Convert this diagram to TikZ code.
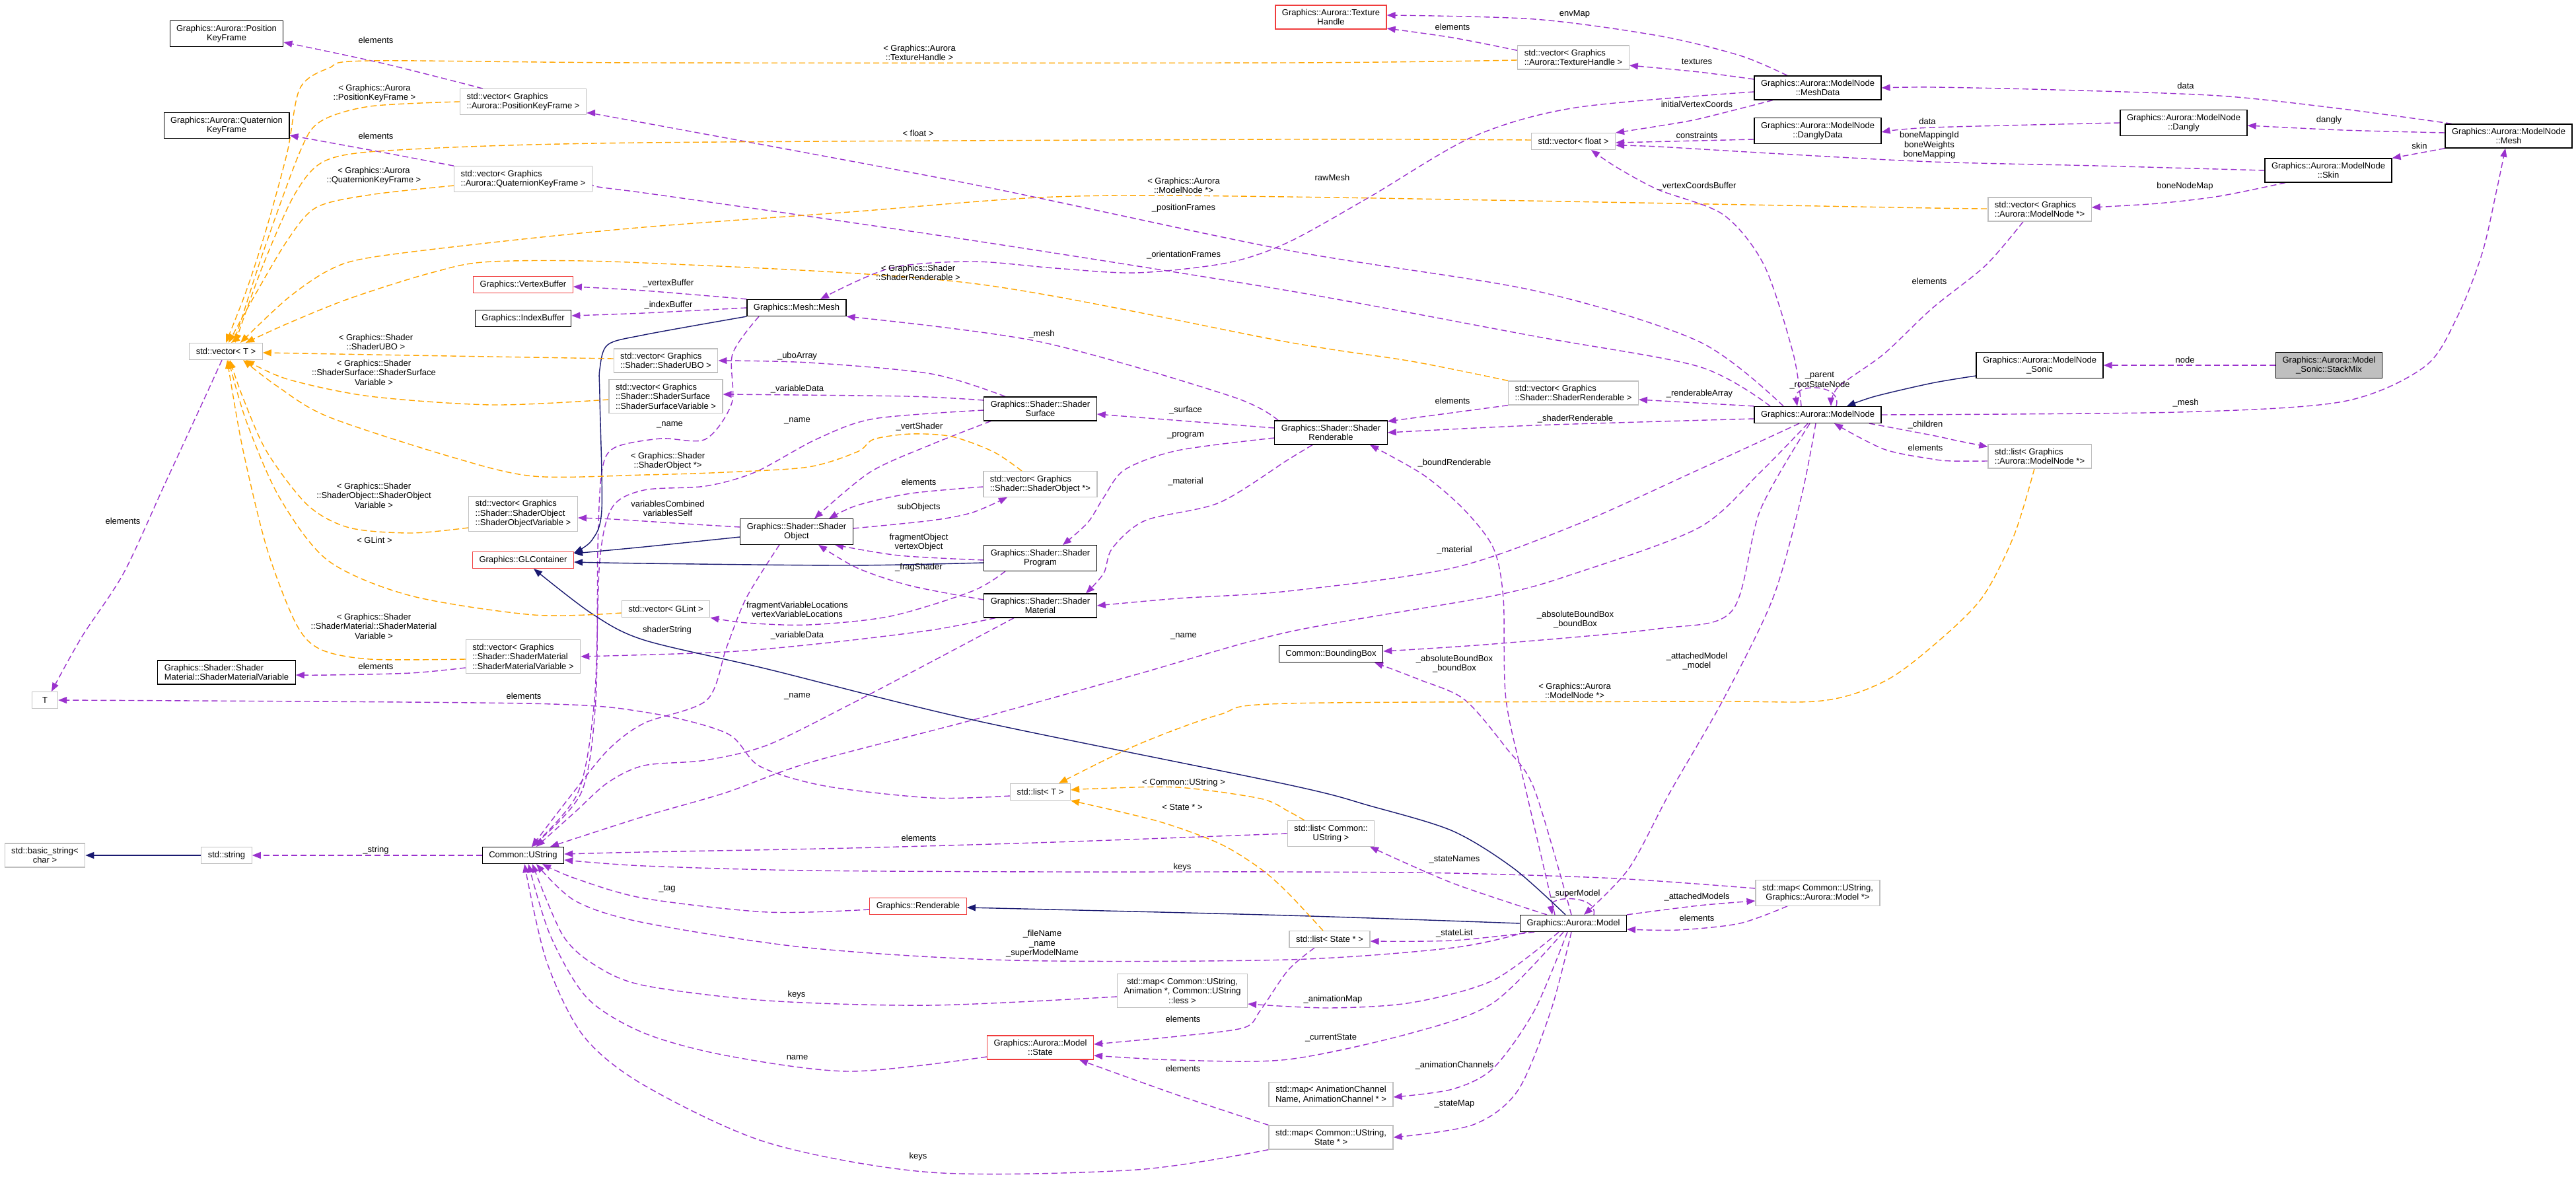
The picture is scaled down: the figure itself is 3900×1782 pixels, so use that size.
\documentclass[tikz,border=0pt]{standalone}
\usepackage{fontspec}
\setmainfont{Liberation Sans}
\usetikzlibrary{arrows.meta, backgrounds}
\definecolor{usecol}{HTML}{9A32CD}
\definecolor{tplcol}{HTML}{FFA500}
\definecolor{inhcol}{HTML}{191970}
\definecolor{undoccol}{HTML}{F03C3C}
\definecolor{graybox}{HTML}{BFBFBF}

\begin{document}
\begin{tikzpicture}[x=1pt, y=-1pt, font=\fontsize{13}{14.5}\selectfont,
  cls/.style={draw=black, line width=1.2pt, fill=white, inner xsep=10pt, inner ysep=6pt, minimum height=25pt, align=center},
  tpl/.style={cls, draw=graybox},
  tplL/.style={tpl, align=left},
  undoc/.style={cls, draw=undoccol},
  focus/.style={cls, fill=graybox},
  lbl/.style={inner sep=0pt, align=center},
  usage/.style={usecol, line width=1.4pt, dash pattern=on 9pt off 5pt, -{Triangle[length=13pt, width=10pt]}},
  tmpl/.style={usage, tplcol},
  inh/.style={inhcol, line width=1.4pt, -{Triangle[length=13pt, width=10pt]}}
]
  \useasboundingbox (0,0) rectangle (3900,1782);

  \node[cls] (poskf) at (343,51) {Graphics::Aurora::Position\\KeyFrame};
  \node[cls] (quatkf) at (343,190) {Graphics::Aurora::Quaternion\\KeyFrame};
  \node[tplL] (vecposkf) at (792,154) {std::vector< Graphics\\::Aurora::PositionKeyFrame >};
  \node[tplL] (vecquatkf) at (792,271) {std::vector< Graphics\\::Aurora::QuaternionKeyFrame >};
  \node[undoc] (vbuf) at (792,431) {Graphics::VertexBuffer};
  \node[cls] (ibuf) at (792,482) {Graphics::IndexBuffer};
  \node[tpl] (vect) at (342,532) {std::vector< T >};
  \node[tplL] (vecubo) at (1008,546) {std::vector< Graphics\\::Shader::ShaderUBO >};
  \node[tplL] (vecsurfvar) at (1008,600) {std::vector< Graphics\\::Shader::ShaderSurface\\::ShaderSurfaceVariable >};
  \node[cls] (mesh) at (1206,466) {Graphics::Mesh::Mesh};
  \node[undoc] (texh) at (2015,26) {Graphics::Aurora::Texture\\Handle};
  \node[tplL] (vectexh) at (2382,87) {std::vector< Graphics\\::Aurora::TextureHandle >};
  \node[cls] (meshdata) at (2752,133) {Graphics::Aurora::ModelNode\\::MeshData};
  \node[cls] (danglydata) at (2752,198) {Graphics::Aurora::ModelNode\\::DanglyData};
  \node[tpl] (vecfloat) at (2382,214) {std::vector< float >};
  \node[tplL] (vecrend) at (2382,595) {std::vector< Graphics\\::Shader::ShaderRenderable >};
  \node[cls] (dangly) at (3306,186) {Graphics::Aurora::ModelNode\\::Dangly};
  \node[cls] (mnmesh) at (3798,206) {Graphics::Aurora::ModelNode\\::Mesh};
  \node[cls] (skin) at (3525,258) {Graphics::Aurora::ModelNode\\::Skin};
  \node[tplL] (vecmn) at (3088,317) {std::vector< Graphics\\::Aurora::ModelNode *>};
  \node[cls] (sonic) at (3088,553) {Graphics::Aurora::ModelNode\\\_Sonic};
  \node[focus] (stackmix) at (3526,553) {Graphics::Aurora::Model\\\_Sonic::StackMix};
  \node[tplL] (vecsovar) at (792,778) {std::vector< Graphics\\::Shader::ShaderObject\\::ShaderObjectVariable >};
  \node[undoc] (glcont) at (792,848) {Graphics::GLContainer};
  \node[tplL] (vecsmvar) at (792,994) {std::vector< Graphics\\::Shader::ShaderMaterial\\::ShaderMaterialVariable >};
  \node[cls, align=left] (smvar) at (343,1018) {Graphics::Shader::Shader\\Material::ShaderMaterialVariable};
  \node[tpl, minimum width=39pt] (tnode) at (68,1060) {T};
  \node[cls] (surface) at (1575,619) {Graphics::Shader::Shader\\Surface};
  \node[cls] (shobject) at (1206,805) {Graphics::Shader::Shader\\Object};
  \node[tplL] (vecso) at (1575,733) {std::vector< Graphics\\::Shader::ShaderObject *>};
  \node[cls] (program) at (1575,845) {Graphics::Shader::Shader\\Program};
  \node[cls] (material) at (1575,917) {Graphics::Shader::Shader\\Material};
  \node[tpl] (vecglint) at (1008,922) {std::vector< GLint >};
  \node[cls] (renderable) at (2015,655) {Graphics::Shader::Shader\\Renderable};
  \node[cls] (bbox) at (2015,990) {Common::BoundingBox};
  \node[tpl] (listt) at (1575,1199) {std::list< T >};
  \node[cls] (modelnode) at (2752,628) {Graphics::Aurora::ModelNode};
  \node[tplL] (listmn) at (3088,691) {std::list< Graphics\\::Aurora::ModelNode *>};
  \node[tpl] (basicstr) at (68,1295) {std::basic\_string<\\char >};
  \node[tpl] (string) at (343,1295) {std::string};
  \node[cls] (ustring) at (792,1295) {Common::UString};
  \node[undoc] (grend) at (1390,1372) {Graphics::Renderable};
  \node[tpl] (mapanim) at (1790,1500) {std::map< Common::UString,\\Animation *, Common::UString\\::less >};
  \node[undoc] (state) at (1575,1586) {Graphics::Aurora::Model\\::State};
  \node[tpl] (liststr) at (2015,1262) {std::list< Common::\\UString >};
  \node[cls] (model) at (2382,1398) {Graphics::Aurora::Model};
  \node[tpl] (mapmodel) at (2752,1352) {std::map< Common::UString,\\Graphics::Aurora::Model *>};
  \node[tpl] (liststate) at (2013,1422) {std::list< State * >};
  \node[tpl] (mapanimch) at (2015,1657) {std::map< AnimationChannel\\Name, AnimationChannel * >};
  \node[tpl] (mapstate) at (2015,1722) {std::map< Common::UString,\\State * >};

  \node[lbl] (lb1) at (569,61) {elements};
  \node[lbl] (lb2) at (567,141) {< Graphics::Aurora\\::PositionKeyFrame >};
  \node[lbl] (lb3) at (569,206) {elements};
  \node[lbl] (lb4) at (566,266) {< Graphics::Aurora\\::QuaternionKeyFrame >};
  \node[lbl] (lb5) at (569,518) {< Graphics::Shader\\::ShaderUBO >};
  \node[lbl] (lb6) at (566,564) {< Graphics::Shader\\::ShaderSurface::ShaderSurface\\Variable >};
  \node[lbl] (lb7) at (1392,80) {< Graphics::Aurora\\::TextureHandle >};
  \node[lbl] (lb8) at (1390,202) {< float >};
  \node[lbl] (lb9) at (1792,281) {< Graphics::Aurora\\::ModelNode *>};
  \node[lbl] (lb10) at (1792,315) {\_positionFrames};
  \node[lbl] (lb11) at (1792,386) {\_orientationFrames};
  \node[lbl] (lb12) at (1390,413) {< Graphics::Shader\\::ShaderRenderable >};
  \node[lbl] (lb13) at (1012,429) {\_vertexBuffer};
  \node[lbl] (lb14) at (1012,462) {\_indexBuffer};
  \node[lbl] (lb15) at (1577,506) {\_mesh};
  \node[lbl] (lb16) at (1207,539) {\_uboArray};
  \node[lbl] (lb17) at (1207,589) {\_variableData};
  \node[lbl] (lb18) at (2384,21) {envMap};
  \node[lbl] (lb19) at (2199,41) {elements};
  \node[lbl] (lb20) at (2569,93) {textures};
  \node[lbl] (lb21) at (2569,158) {initialVertexCoords};
  \node[lbl] (lb22) at (2569,205) {constraints};
  \node[lbl] (lb23) at (2017,269) {rawMesh};
  \node[lbl] (lb24) at (2569,282) {\_vertexCoordsBuffer};
  \node[lbl] (lb25) at (2755,576) {\_parent\\\_rootStateNode};
  \node[lbl] (lb26) at (2921,220) {boneMappingId\\boneWeights\\boneMapping};
  \node[lbl] (lb27) at (2918,184) {data};
  \node[lbl] (lb28) at (2573,596) {\_renderableArray};
  \node[lbl] (lb29) at (2921,426) {elements};
  \node[lbl] (lb30) at (3309,130) {data};
  \node[lbl] (lb31) at (3526,182) {dangly};
  \node[lbl] (lb32) at (3663,221) {skin};
  \node[lbl] (lb33) at (3308,282) {boneNodeMap};
  \node[lbl] (lb34) at (3308,545) {node};
  \node[lbl] (lb35) at (186,789) {elements};
  \node[lbl] (lb36) at (566,750) {< Graphics::Shader\\::ShaderObject::ShaderObject\\Variable >};
  \node[lbl] (lb37) at (567,818) {< GLint >};
  \node[lbl] (lb38) at (566,948) {< Graphics::Shader\\::ShaderMaterial::ShaderMaterial\\Variable >};
  \node[lbl] (lb39) at (569,1009) {elements};
  \node[lbl] (lb40) at (793,1054) {elements};
  \node[lbl] (lb41) at (1014,643) {\_name};
  \node[lbl] (lb42) at (1207,637) {\_name};
  \node[lbl] (lb43) at (1392,646) {\_vertShader};
  \node[lbl] (lb44) at (1011,698) {< Graphics::Shader\\::ShaderObject *>};
  \node[lbl] (lb45) at (1011,770) {variablesCombined\\variablesSelf};
  \node[lbl] (lb46) at (1391,730) {elements};
  \node[lbl] (lb47) at (1391,768) {subObjects};
  \node[lbl] (lb48) at (1391,821) {fragmentObject\\vertexObject};
  \node[lbl] (lb49) at (1391,859) {\_fragShader};
  \node[lbl] (lb50) at (1207,923) {fragmentVariableLocations\\vertexVariableLocations};
  \node[lbl] (lb51) at (1010,954) {shaderString};
  \node[lbl] (lb52) at (1207,962) {\_variableData};
  \node[lbl] (lb53) at (1207,1054) {\_name};
  \node[lbl] (lb54) at (1795,621) {\_surface};
  \node[lbl] (lb55) at (1795,659) {\_program};
  \node[lbl] (lb56) at (1795,729) {\_material};
  \node[lbl] (lb57) at (1792,963) {\_name};
  \node[lbl] (lb58) at (1792,1185) {< Common::UString >};
  \node[lbl] (lb59) at (2199,607) {elements};
  \node[lbl] (lb60) at (2385,634) {\_shaderRenderable};
  \node[lbl] (lb61) at (2202,701) {\_boundRenderable};
  \node[lbl] (lb62) at (2202,833) {\_material};
  \node[lbl] (lb63) at (2385,938) {\_absoluteBoundBox\\\_boundBox};
  \node[lbl] (lb64) at (2202,1005) {\_absoluteBoundBox\\\_boundBox};
  \node[lbl] (lb65) at (2569,1001) {\_attachedModel\\\_model};
  \node[lbl] (lb66) at (2384,1046) {< Graphics::Aurora\\::ModelNode *>};
  \node[lbl] (lb67) at (2915,643) {\_children};
  \node[lbl] (lb68) at (2915,678) {elements};
  \node[lbl] (lb69) at (3309,610) {\_mesh};
  \node[lbl] (lb70) at (569,1287) {\_string};
  \node[lbl] (lb71) at (1790,1222) {< State * >};
  \node[lbl] (lb72) at (1391,1269) {elements};
  \node[lbl] (lb73) at (1790,1313) {keys};
  \node[lbl] (lb74) at (1010,1346) {\_tag};
  \node[lbl] (lb75) at (1578,1429) {\_fileName\\\_name\\\_superModelName};
  \node[lbl] (lb76) at (1206,1506) {keys};
  \node[lbl] (lb77) at (1791,1543) {elements};
  \node[lbl] (lb78) at (1207,1601) {name};
  \node[lbl] (lb79) at (1791,1618) {elements};
  \node[lbl] (lb80) at (1390,1751) {keys};
  \node[lbl] (lb81) at (2202,1301) {\_stateNames};
  \node[lbl] (lb82) at (2385,1353) {\_superModel};
  \node[lbl] (lb83) at (2569,1358) {\_attachedModels};
  \node[lbl] (lb84) at (2569,1390) {elements};
  \node[lbl] (lb85) at (2202,1413) {\_stateList};
  \node[lbl] (lb86) at (2018,1513) {\_animationMap};
  \node[lbl] (lb87) at (2015,1571) {\_currentState};
  \node[lbl] (lb88) at (2202,1613) {\_animationChannels};
  \node[lbl] (lb89) at (2202,1671) {\_stateMap};

  \begin{scope}[on background layer]
  % usage
  \draw[usage] plot[smooth] coordinates {([xshift=-61]vecposkf.north) (580,96) ([yshift=-13]poskf.east)};
  \draw[usage] plot[smooth] coordinates {(vecquatkf.north west) (565,228) ([yshift=5]quatkf.south east)};
  \draw[usage] plot[smooth] coordinates {([xshift=-52]modelnode.north) (2572,517) (2323,440) (1950,379) (1472,279) (975,186) ([yshift=-17]vecposkf.east)};
  \draw[usage] plot[smooth] coordinates {([xshift=-72]modelnode.north) (2572,555) (2323,509) (1950,440) (1472,364) (975,292) ([yshift=-14]vecquatkf.east)};
  \draw[usage] plot[smooth] coordinates {(mesh.north west) (975,440) ([yshift=-3]vbuf.east)};
  \draw[usage] plot[smooth] coordinates {(mesh.west) (975,474) ([yshift=4]ibuf.east)};
  \draw[usage] plot[smooth] coordinates {([yshift=-6]meshdata.west) (2385,163) (2230,207) (2074,298) (1950,367) (1858,398) (1721,413) (1597,406) (1473,396) (1348,406) ([xshift=36]mesh.north)};
  \draw[usage] plot[smooth] coordinates {([xshift=-80]renderable.north) (1864,600) (1572,517) (mesh.south east)};
  \draw[usage] plot[smooth] coordinates {([xshift=-53]surface.north) (1410,566) (1224,549) (vecubo.east)};
  \draw[usage] plot[smooth] coordinates {([yshift=13]surface.west) (1373,600) ([yshift=3]vecsurfvar.east)};
  \draw[usage] plot[smooth] coordinates {([xshift=-57]mesh.south) (1109,536) (1108,610) (1068,665) (1000,664) (930,678) (911,715) (905,830) (902,1059) (880,1200) ([xshift=13]ustring.north)};
  \draw[usage] plot[smooth] coordinates {([yshift=-2]surface.west) (1323,634) (1236,665) (1143,715) (1068,736) (975,742) (927,768) (908,849) (900,1060) (875,1200) ([xshift=13]ustring.north)};
  \draw[usage] plot[smooth] coordinates {([xshift=-75]surface.south) (1410,673) (1317,715) ([xshift=27]shobject.north)};
  \draw[usage] plot[smooth] coordinates {([yshift=-4]vecso.west) (1379,747) (1298,765) ([xshift=49]shobject.north)};
  \draw[usage] plot[smooth] coordinates {([yshift=5]shobject.east) (1410,788) (1472,776) ([xshift=-50]vecso.south)};
  \draw[usage] plot[smooth] coordinates {([yshift=-3]program.west) (1361,841) ([xshift=58]shobject.south)};
  \draw[usage] plot[smooth] coordinates {([yshift=9]material.west) (1379,887) (1298,860) ([xshift=33]shobject.south)};
  \draw[usage] plot[smooth] coordinates {([xshift=-53]program.south) (1472,895) (1348,933) (1224,946) (1130,943) (vecglint.south east)};
  \draw[usage] plot[smooth] coordinates {([yshift=7]shobject.west) (1037,793) (927,786) ([yshift=-6]vecsovar.east)};
  \draw[usage] plot[smooth] coordinates {([xshift=-68]material.south) (1410,954) (1255,973) (1099,987) (vecsmvar.east)};
  \draw[usage] plot[smooth] coordinates {([yshift=-17]vecsmvar.west) (622,1019) (497,1022) ([yshift=-4]smvar.east)};
  \draw[usage] plot[smooth] coordinates {([xshift=-26]shobject.south) (1130,905) (1100,980) (1070,1060) (975,1095) (920,1136) (860,1210) ([xshift=13]ustring.north)};
  \draw[usage] ([yshift=7]renderable.west) -- ([yshift=-8]surface.east);
  \draw[usage] plot[smooth] coordinates {([yshift=-8]renderable.west) (1783,682) (1703,711) (1671,753) (1647,791) ([xshift=34]program.north)};
  \draw[usage] plot[smooth] coordinates {([xshift=-28]renderable.south) (1950,696) (1846,761) (1734,788) (1684,830) (1671,868) ([xshift=69]material.north)};
  \draw[usage] plot[smooth] coordinates {([xshift=-28]modelnode.south) (2572,711) (2385,795) (2199,860) (1950,895) (1783,906) (material.east)};
  \draw[usage] (vecrend.south west) -- ([yshift=17]renderable.east);
  \draw[usage] (modelnode.north west) -- ([yshift=-10]vecrend.east);
  \draw[usage] plot[smooth] coordinates {([yshift=-6]modelnode.west) (2323,644) (renderable.east)};
  \draw[usage] plot[smooth] coordinates {([xshift=-28]model.north) (2311,1200) (2280,1059) (2276,906) (2261,830) (2217,772) (2155,719) ([xshift=59]renderable.south)};
  \draw[usage] plot[smooth] coordinates {([xshift=-12]modelnode.south) (2665,772) (2622,925) (2510,952) (2261,975) ([yshift=4]bbox.east)};
  \draw[usage] plot[smooth] coordinates {([xshift=-3]model.north) (2323,1195) (2280,1132) (2217,1059) (2149,1029) ([xshift=66]bbox.south)};
  \draw[usage] plot[smooth] coordinates {([xshift=-3]modelnode.south) (2727,753) (2684,906) (2609,1059) (2528,1200) (2466,1315) ([xshift=16]model.north)};
  \draw[usage] ([xshift=28]modelnode.north) .. controls (2790,580) and (2715,580) .. ([xshift=-31]modelnode.north);
  \draw[usage] plot[smooth] coordinates {([xshift=-25]modelnode.north) (2715,536) (2671,402) (2609,325) (2510,287) (2447,253) ([xshift=27]vecfloat.south)};
  \draw[usage] plot[smooth] coordinates {([xshift=-68]meshdata.south) (2572,180) (2510,191) ([yshift=13]vecfloat.east)};
  \draw[usage] ([yshift=-13]danglydata.west) -- ([yshift=-2]vecfloat.east);
  \draw[usage] plot[smooth] coordinates {(skin.west) (3174,251) (2925,245) (2696,233) (2510,222) ([yshift=-6]vecfloat.east)};
  \draw[usage] plot[smooth] coordinates {([yshift=13]meshdata.west) (2572,109) ([yshift=-12]vectexh.east)};
  \draw[usage] plot[smooth] coordinates {([xshift=-46]meshdata.north) (2634,84) (2510,54) (2323,29) ([yshift=3]texh.east)};
  \draw[usage] plot[smooth] coordinates {([yshift=-8]vectexh.north west) (2199,57) ([yshift=-17]texh.east)};
  \draw[usage] plot[smooth] coordinates {([xshift=-86]mnmesh.north) (3547,165) (3360,145) (3112,136) (2925,132) (meshdata.east)};
  \draw[usage] plot[smooth] coordinates {(dangly.west) (2925,193) ([yshift=-2]danglydata.east)};
  \draw[usage] plot[smooth] coordinates {([yshift=5]mnmesh.west) (3547,197) ([yshift=-4]dangly.east)};
  \draw[usage] (mnmesh.south west) -- (skin.north east);
  \draw[usage] plot[smooth] coordinates {([xshift=-65]skin.south) (3360,297) (3267,308) ([yshift=3]vecmn.east)};
  \draw[usage] plot[smooth] coordinates {([xshift=-25]vecmn.south) (3006,402) (2925,467) (2852,536) (2783,586) ([xshift=20]modelnode.north)};
  \draw[usage] plot[smooth] coordinates {(modelnode.east) (3298,624) (3547,608) (3671,555) (3721,478) (3758,383) (3780,287) ([xshift=-5]mnmesh.south)};
  \draw[usage] plot[smooth] coordinates {([xshift=78]modelnode.south) (2925,659) (2962,667) ([yshift=-4]listmn.north west)};
  \draw[usage] plot[smooth] coordinates {([yshift=-7]listmn.west) (2956,698) (2925,695) (2852,680) ([xshift=25]modelnode.south)};
  \draw[usage] (stackmix.west) -- (sonic.east);
  \draw[usage] plot[smooth] coordinates {([xshift=-6]vect.south) (311,600) (249,734) (187,868) (124,964) ([xshift=10]tnode.north)};
  \draw[usage] plot[smooth] coordinates {([yshift=-6]listt.west) (1410,1208) (1249,1190) (1150,1160) (1100,1110) (975,1078) (796,1065) (tnode.east)};
  \draw[usage] plot[smooth] coordinates {([xshift=-15]modelnode.south) (2665,715) (2572,799) (2385,868) (2261,902) (1950,957) (1721,1021) (1473,1090) (1224,1155) (1099,1200) (975,1236) ([xshift=41]ustring.north)};
  \draw[usage] plot[smooth] coordinates {([xshift=-40]material.south) (1410,1002) (1286,1067) (1162,1128) (1068,1151) (975,1159) (920,1185) (870,1230) ([xshift=20]ustring.north)};
  \draw[usage] plot[smooth] coordinates {(liststr.west) (1597,1275) (1286,1284) (975,1290) ([yshift=2]ustring.east)};
  \draw[usage] plot[smooth] coordinates {([yshift=7]mapmodel.west) (2447,1330) (2199,1322) (1950,1320) (1597,1320) (1224,1318) (975,1311) ([yshift=-7]ustring.east)};
  \draw[usage] plot[smooth] coordinates {([yshift=-5]grend.west) (1162,1381) (975,1360) (871,1330) ([xshift=29]ustring.south)};
  \draw[usage] plot[smooth] coordinates {([xshift=-71]model.south) (2199,1435) (1950,1453) (1535,1454) (1224,1435) (975,1397) (871,1364) ([xshift=20]ustring.south)};
  \draw[usage] plot[smooth] coordinates {([yshift=-9]mapanim.west) (1410,1522) (1162,1515) (975,1492) (902,1462) (852,1416) ([xshift=14]ustring.south)};
  \draw[usage] plot[smooth] coordinates {([yshift=-14]state.west) (1286,1622) (1099,1598) (975,1564) (889,1511) (833,1416) ([xshift=8]ustring.south)};
  \draw[usage] plot[smooth] coordinates {(mapstate.south west) (1721,1771) (1410,1775) (1162,1730) (975,1643) (883,1568) (827,1454) ([xshift=2]ustring.south)};
  \draw[usage] plot[smooth] coordinates {([xshift=-40]model.north) (2199,1337) ([xshift=59]liststr.south)};
  \draw[usage] ([xshift=31]model.north) .. controls (2420,1355) and (2345,1355) .. ([xshift=-32]model.north);
  \draw[usage] plot[smooth] coordinates {(model.north east) (2572,1371) ([yshift=-12]mapmodel.west)};
  \draw[usage] plot[smooth] coordinates {([xshift=-46]mapmodel.south) (2634,1398) (2541,1408) ([yshift=-9]model.east)};
  \draw[usage] plot[smooth] coordinates {([xshift=-59]model.south) (2199,1424) ([yshift=-3]liststate.east)};
  \draw[usage] plot[smooth] coordinates {([xshift=-22]model.south) (2261,1484) (2137,1518) (2012,1526) ([yshift=-20]mapanim.east)};
  \draw[usage] plot[smooth] coordinates {([xshift=-15]model.south) (2261,1518) (2137,1564) (1950,1604) (1783,1605) ([yshift=-12]state.east)};
  \draw[usage] plot[smooth] coordinates {([xshift=-23]liststate.south) (1950,1469) (1908,1530) (1883,1556) (1783,1569) ([yshift=5]state.east)};
  \draw[usage] plot[smooth] coordinates {(mapstate.north west) (1783,1658) ([xshift=59]state.south)};
  \draw[usage] plot[smooth] coordinates {([xshift=-9]model.south) (2323,1530) (2261,1617) (2199,1649) ([yshift=-4]mapanimch.east)};
  \draw[usage] plot[smooth] coordinates {([xshift=-3]model.south) (2348,1530) (2298,1651) (2230,1703) (mapstate.east)};
  \draw[usage] (ustring.west) -- (string.east);
  % inheritance
  \draw[inh] (string.west) -- (basicstr.east);
  \draw[inh] plot[smooth] coordinates {(mesh.south west) (975,507) (920,522) (908,559) (908,600) (911,772) (896,818) ([yshift=11]glcont.east)};
  \draw[inh] plot[smooth] coordinates {([yshift=-8]shobject.west) (975,828) ([yshift=10]glcont.east)};
  \draw[inh] plot[smooth] coordinates {([yshift=-7]program.west) (1286,856) (975,853) ([yshift=-3]glcont.east)};
  \draw[inh] plot[smooth] coordinates {([xshift=-12]model.north) (2292,1315) (2199,1258) (2074,1220) (1950,1188) (1473,1090) (1162,1013) (975,969) (896,929) ([xshift=16]glcont.south)};
  \draw[inh] plot[smooth] coordinates {(model.west) (1950,1386) ([yshift=-2]grend.east)};
  \draw[inh] plot[smooth] coordinates {([yshift=-16]sonic.west) (2925,580) (2839,600) ([xshift=44]modelnode.north)};
  % templates
  \draw[tmpl] plot[smooth] coordinates {([yshift=-4]vectexh.west) (1950,95) (975,95) (560,92) (498,103) (454,134) (435,230) (404,344) (373,440) (vect.north)};
  \draw[tmpl] plot[smooth] coordinates {(vecposkf.west) (560,161) (485,184) (454,230) (398,383) (361,497) ([xshift=8]vect.north)};
  \draw[tmpl] plot[smooth] coordinates {([yshift=2]vecfloat.west) (1950,211) (975,216) (622,226) (498,241) (448,291) (398,402) ([xshift=14]vect.north)};
  \draw[tmpl] plot[smooth] coordinates {([yshift=-10]vecquatkf.west) (560,295) (479,314) (435,364) (379,459) ([xshift=4]vect.north)};
  \draw[tmpl] plot[smooth] coordinates {([yshift=2]vecmn.west) (2925,315) (1950,298) (1597,298) (1286,321) (975,344) (746,367) (560,390) (498,409) (435,452) ([xshift=22]vect.north)};
  \draw[tmpl] plot[smooth] coordinates {(vecrend.north west) (2137,547) (1950,518) (1472,429) (975,398) (746,396) (653,413) (529,452) (435,490) ([xshift=30]vect.north)};
  \draw[tmpl] plot[smooth] coordinates {([yshift=3]vecubo.west) (622,538) ([yshift=-2]vect.east)};
  \draw[tmpl] plot[smooth] coordinates {([yshift=-5]vecsurfvar.west) (746,613) (560,600) (435,574) ([xshift=30]vect.south)};
  \draw[tmpl] plot[smooth] coordinates {([xshift=-28]vecso.north) (1504,684) (1441,661) (1379,657) (1323,665) (1298,684) (1224,707) (1099,715) (975,719) (808,721) (684,692) (497,631) (420,585) ([xshift=26]vect.south)};
  \draw[tmpl] plot[smooth] coordinates {([yshift=-21]vecsovar.west) (622,807) (529,799) (466,765) (404,684) (367,600) ([xshift=6]vect.south)};
  \draw[tmpl] plot[smooth] coordinates {([yshift=-6]vecglint.west) (808,931) (622,902) (497,849) (423,753) (373,638) ([xshift=4]vect.south)};
  \draw[tmpl] plot[smooth] coordinates {([yshift=-4]vecsmvar.west) (560,998) (485,983) (448,944) (404,830) (367,677) ([xshift=2]vect.south)};
  \draw[tmpl] plot[smooth] coordinates {([xshift=-8]listmn.south) (3049,811) (3000,906) (2925,979) (2852,1032) (2758,1061) (2572,1062) (1950,1065) (1846,1082) (1721,1128) ([xshift=28]listt.north)};
  \draw[tmpl] plot[smooth] coordinates {([xshift=-40]liststr.north) (1950,1228) (1908,1209) (1783,1192) (1659,1194) ([yshift=3]listt.east)};
  \draw[tmpl] plot[smooth] coordinates {([xshift=-10]liststate.north) (1950,1352) (1908,1315) (1846,1277) (1752,1243) (listt.south east)};
  \end{scope}
\end{tikzpicture}
\end{document}
